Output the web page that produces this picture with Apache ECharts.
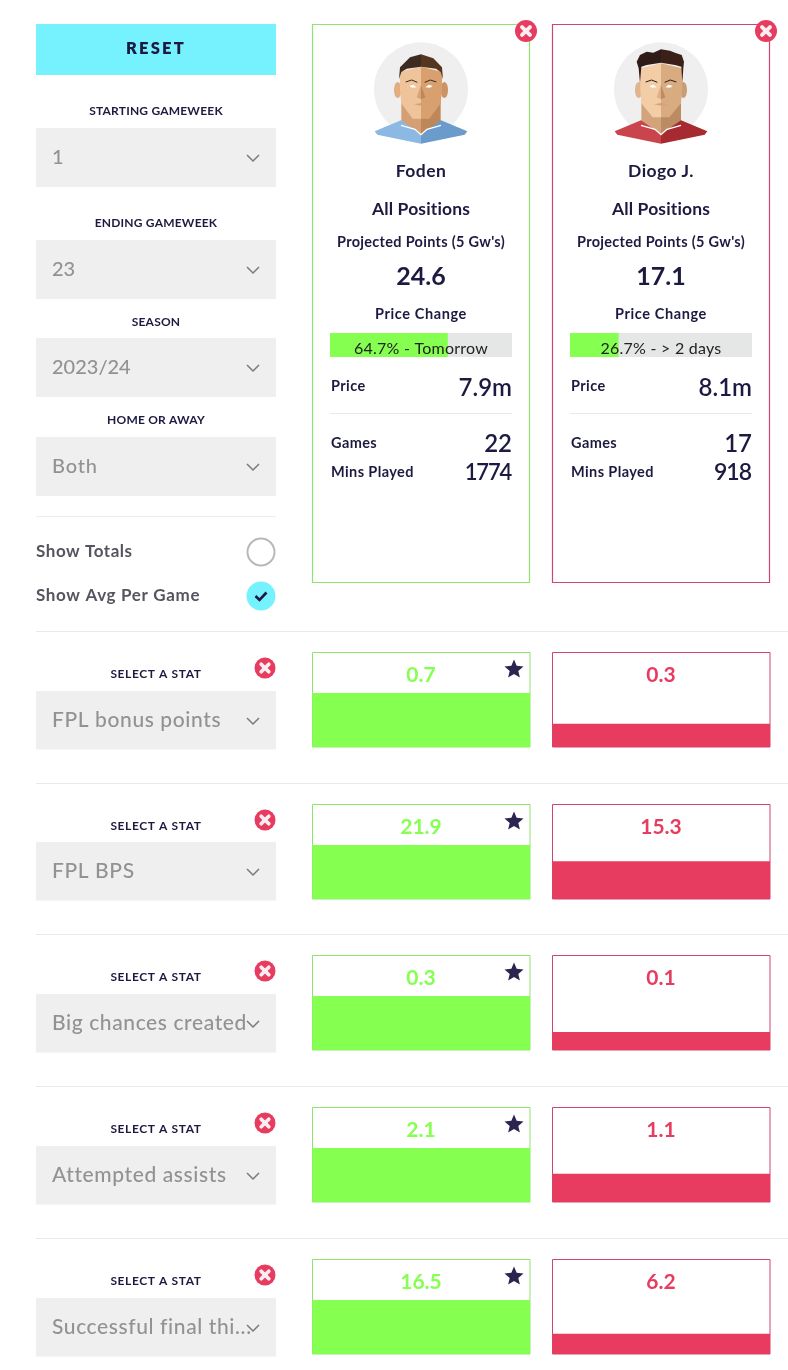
<!DOCTYPE html>
<html><head><meta charset="utf-8">
<style>html,body{margin:0;padding:0;background:#fff}#c{width:788px;height:1370px}</style>
<script src="https://cdn.jsdelivr.net/npm/echarts@6/dist/echarts.min.js"></script>
</head><body><div id="c"></div>
<script>
const players=['Foden','Diogo J.'];
const positions=['All Positions','All Positions'];
const projected=[24.6,17.1];
const priceChangePct=[64.7,26.7];
const priceChangeWhen=['Tomorrow','> 2 days'];
const prices=['7.9m','8.1m'];
const games=[22,17];
const minsPlayed=[1774,918];
const statNames=['FPL bonus points','FPL BPS','Big chances created','Attempted assists','Successful final thi...'];
const statsFoden=[0.7,21.9,0.3,2.1,16.5];
const statsDiogo=[0.3,15.3,0.1,1.1,6.2];
const filterLabels=['STARTING GAMEWEEK','ENDING GAMEWEEK','SEASON','HOME OR AWAY'];
const filterValues=['1','23','2023/24','Both'];

const FONT='Lato';
const NAVY='#1c1a40',GREEN='#85ff50',RED='#e73c5f',GREENB='#8fe36f',REDB='#cf4570',GREY='#efefef',CYAN='#76f2ff',SEL='#929292';
// letter spacing per text string: the canvas draws it, the layout stays with the library
const SPACING={};
const nativeFill=CanvasRenderingContext2D.prototype.fillText;
CanvasRenderingContext2D.prototype.fillText=function(t,x,y,m){
  this.letterSpacing=(SPACING[t]||0)+'px';
  const r=m===undefined?nativeFill.call(this,t,x,y):nativeFill.call(this,t,x,y,m);
  this.letterSpacing='0px';
  return r;
};
const g=[];
function T(text,x,y,size,fill,weight,align,ls){
  const s=String(text);
  if(ls) SPACING[s]=ls;
  g.push({type:'text',z:20,style:{text:s,x,y:y+1,fill,fontFamily:FONT,fontSize:size,fontWeight:weight||500,textAlign:align||'center',textVerticalAlign:'middle'}});
}
function R(x,y,w,h,fill,stroke,lw){g.push({type:'rect',z:1,shape:{x,y,width:w,height:h},style:{fill:fill||'transparent',stroke:stroke||null,lineWidth:lw||0}});}
function L(x1,y1,x2,y2,stroke,lw){g.push({type:'line',z:1,shape:{x1,y1,x2,y2},style:{stroke,lineWidth:lw||1}});}
function chevron(x,y){g.push({type:'polyline',z:20,shape:{points:[[x-6,y-3],[x,y+3],[x+6,y-3]]},style:{stroke:'#7a7a7a',lineWidth:1.5,fill:null}});}
function closeIcon(x,y,r){
  g.push({type:'circle',z:30,shape:{cx:x,cy:y,r},style:{fill:RED}});
  const d=r*0.36;
  g.push({type:'line',z:31,shape:{x1:x-d,y1:y-d,x2:x+d,y2:y+d},style:{stroke:'#fbeef1',lineWidth:r*0.36,lineCap:'round'}});
  g.push({type:'line',z:31,shape:{x1:x-d,y1:y+d,x2:x+d,y2:y-d},style:{stroke:'#fbeef1',lineWidth:r*0.36,lineCap:'round'}});
}
function star(cx,cy,r){
  const pts=[];
  for(let i=0;i<10;i++){const a=-Math.PI/2+i*Math.PI/5,q=i%2?r*0.45:r;pts.push([cx+q*Math.cos(a),cy+q*Math.sin(a)]);}
  g.push({type:'polygon',z:25,shape:{points:pts},style:{fill:'#2b2450'}});
}
// left controls
R(36,24,240,51,CYAN);
T('RESET',156,48,16.5,NAVY,800,'center',2.2);
const fy=[111,223,322,420],by=[128,240,338,437];
filterLabels.forEach((t,i)=>{
  T(t,156,fy[i]-.5,12,NAVY,700,'center',.2);
  R(36,by[i],240,59,GREY);
  T(filterValues[i],52,by[i]+29,20,SEL,500,'left',i==3?.8:0);
  chevron(253,by[i]+30);
});
L(36,516.5,276,516.5,'#ececec');
T('Show Totals',36,551,17,'#55555f',700,'left',.55);
T('Show Avg Per Game',36,595,17,'#55555f',700,'left',.65);
g.push({type:'circle',z:5,shape:{cx:261,cy:552,r:13.5},style:{fill:'#fff',stroke:'#b8b8b8',lineWidth:2}});
g.push({type:'circle',z:5,shape:{cx:261,cy:596,r:14.5},style:{fill:CYAN}});
g.push({type:'polyline',z:6,shape:{points:[[255.5,596],[259.5,600],[266.5,592.5]]},style:{stroke:NAVY,lineWidth:2.6,fill:null}});

// rows
const rowLine=[631,783,934,1086,1238];
const rowLabel=[674,826,977,1129,1281];
const rowClose=[668,820,971,1123,1275];
const rowSel=[691,842,994,1146,1298];
const rowBox=[652,804,955,1107,1259];
statNames.forEach((s,i)=>{
  L(36,rowLine[i]+.5,788,rowLine[i]+.5,'#e9e9e9');
  T('SELECT A STAT',156,rowLabel[i]-.5,12,NAVY,700,'center',.6);
  closeIcon(265,rowClose[i],10.5);
  R(36,rowSel[i],240,58.5,GREY);
  T(s,52,rowSel[i]+28.5,21,SEL,500,'left',.6);
  chevron(253,rowSel[i]+30);
  T(statsFoden[i].toFixed(1),421,rowBox[i]+22,21,GREEN,700);
  T(statsDiogo[i].toFixed(1),661,rowBox[i]+22,21,RED,700);
  if(statsFoden[i]>=statsDiogo[i]) star(514,rowBox[i]+17.5,10); else star(754,rowBox[i]+17.5,10);
});

// cards
const cardX=[312,552];
players.forEach((p,i)=>{
  const x=cardX[i],cx=x+109,b=i?REDB:GREENB,left=x+18,right=x+200;
  R(x+.5,24.5,217,558,'#fff',b,1.2);
  closeIcon(x+214,31,11);
  T(p,cx,170.5,17.5,NAVY,700,'center',.4);
  T(positions[i],cx,208.5,17.5,NAVY,700,'center',.15);
  T("Projected Points (5 Gw's)",cx,241.5,14.5,NAVY,700,'center',.3);
  T(projected[i].toFixed(1),cx,275.5,25,NAVY,700);
  T('Price Change',cx,313.5,14.5,NAVY,700,'center',.6);
  T(priceChangePct[i].toFixed(1)+'% - '+priceChangeWhen[i],cx,348,16,'#222',400,'center',.25);
  T('Price',left+1,385.5,14.5,NAVY,700,'left',.4);
  T(prices[i],right,387,24,NAVY,600,'right');
  L(left,413.5,right,413.5,'#e8e8e8');
  T('Games',left+1,442.5,14.5,NAVY,700,'left',.4);
  T(games[i],right,443,24,NAVY,600,'right');
  T('Mins Played',left+1,471.5,14.5,NAVY,700,'left',.4);
  T(minsPlayed[i],right-1,472,i?23:22,NAVY,600,'right',i?-1:-1.2);
});

// faces — decorative avatars, drawn at 3x in a scaled group
function P(points,fill){return {type:'polygon',shape:{points},style:{fill}};}
function face(ox,c){
  const ch=[];
  ch.push({type:'circle',shape:{cx:363,cy:238,r:141},style:{fill:'#efefef'}});
  ch.push({type:'ellipse',shape:{cx:c.earX0,cy:240,rx:11,ry:24},style:{fill:c.earL}});
  ch.push({type:'ellipse',shape:{cx:c.earX1,cy:240,rx:11,ry:24},style:{fill:c.earR}});
  ch.push(P([[c.nl,270],[363,300],[363,376],[303,340],[c.nl,330]],c.neckL));
  ch.push(P([[c.nr,270],[363,300],[363,376],[423,340],[c.nr,330]],c.neckR));
  ch.push(P([[224,364],[303,331],[363,373],[363,401],[232,374]],c.shirtL));
  ch.push(P([[502,364],[423,331],[363,373],[363,401],[494,374]],c.shirtR));
  ch.push({type:'polyline',shape:{points:[[303,346],[345,358],[363,374],[381,358],[423,346]]},style:{stroke:'#fff',lineWidth:4,fill:null}});
  ch.push(P(c.faceL,c.skinL));
  ch.push(P(c.faceR,c.skinR));
  ch.push(P([[363,225],[350,262],[363,268]],c.noseL));
  ch.push(P([[363,225],[376,262],[363,268]],c.neckR));
  ch.push(P([[342,283],[363,279],[384,283],[363,287]],c.neckL));
  ch.push(P(c.hairL,c.hair));
  ch.push(P(c.hairR,c.hair2));
  ch.push({type:'polyline',shape:{points:[[317,216],[335,210],[352,217]]},style:{stroke:c.hair,lineWidth:3,fill:null}});
  ch.push({type:'polyline',shape:{points:[[409,216],[391,210],[374,217]]},style:{stroke:c.hair,lineWidth:3,fill:null}});
  ch.push(P([[328,228],[340,224],[350,232],[336,233]],'#fff'));
  ch.push(P([[398,228],[386,224],[376,232],[390,233]],'#fff'));
  ch.forEach((o,i)=>{o.z=6;o.z2=i;});
  g.push({type:'group',x:ox,y:10,scaleX:1/3,scaleY:1/3,children:ch});
}
face(300,{earX0:293,earX1:433,nl:304,nr:422,skinL:'#f0c49b',skinR:'#d8a06e',neckL:'#d49f72',neckR:'#bd875a',noseL:'#d9a474',earL:'#e2ad80',earR:'#cc9464',
  shirtL:'#8bb9e3',shirtR:'#6a9bca',hair:'#3d2a20',hair2:'#55371f',
  faceL:[[300,185],[363,170],[363,326],[338,326],[304,280],[300,240]],
  faceR:[[426,185],[363,170],[363,326],[388,326],[422,280],[426,240]],
  hairL:[[297,208],[300,172],[330,142],[363,133],[363,170],[320,176],[304,186]],
  hairR:[[429,208],[426,172],[400,145],[363,133],[363,170],[408,176],[422,186]]});
face(540,{earX0:296,earX1:430,nl:304,nr:423,skinL:'#f2cda6',skinR:'#d8ab80',neckL:'#d3a47c',neckR:'#bb8c62',noseL:'#deb083',earL:'#e0b48c',earR:'#c99e74',
  shirtL:'#c9444b',shirtR:'#a62a2f',hair:'#2f1c16',hair2:'#3b2019',
  faceL:[[301,175],[363,160],[363,322],[338,322],[304,280],[301,240]],
  faceR:[[426,175],[363,160],[363,322],[388,322],[423,280],[426,240]],
  hairL:[[290,155],[300,135],[320,125],[340,128],[363,118],[363,158],[320,165],[304,170],[300,220],[296,175]],
  hairR:[[432,155],[425,135],[405,128],[390,122],[363,118],[363,158],[405,165],[424,170],[427,220],[430,175]]});

// ECharts grids
const grids=[],xA=[],yA=[],series=[];
function addBar(gr,cat,val,vmax,color,horizontal,bg){
  const k=grids.length;
  grids.push(gr);
  const cfg={show:false,type:'category',data:[cat],gridIndex:k};
  const vcfg={show:false,type:'value',min:0,max:vmax,gridIndex:k};
  if(horizontal){xA.push(vcfg);yA.push(cfg);}else{xA.push(cfg);yA.push(vcfg);}
  series.push({type:'bar',name:cat,xAxisIndex:k,yAxisIndex:k,data:[val],barWidth:'100%',silent:true,animation:false,
    itemStyle:{color},showBackground:!!bg,backgroundStyle:{color:bg||'transparent'},z:5});
}
players.forEach((p,i)=>{
  addBar({left:cardX[i]+18,top:333,width:182,height:24,show:false},p,priceChangePct[i],100,GREEN,true,'#e5e6e6');
});
const BOX=94.5,BAR=54;
statNames.forEach((s,i)=>{
  const top=Math.max(statsFoden[i],statsDiogo[i])*BOX/BAR;
  addBar({left:312.5,top:rowBox[i]+.5,width:217.5,height:BOX,show:true,backgroundColor:'#fff',borderColor:GREENB,borderWidth:1},s,statsFoden[i],top,GREEN);
  addBar({left:552.5,top:rowBox[i]+.5,width:217.5,height:BOX,show:true,backgroundColor:'#fff',borderColor:REDB,borderWidth:1},s,statsDiogo[i],top,RED);
});
const chart=echarts.init(document.getElementById('c'),null,{renderer:'canvas',width:788,height:1370});
chart.setOption({animation:false,backgroundColor:'#fff',grid:grids,xAxis:xA,yAxis:yA,series,graphic:{elements:g}});
</script></body></html>
